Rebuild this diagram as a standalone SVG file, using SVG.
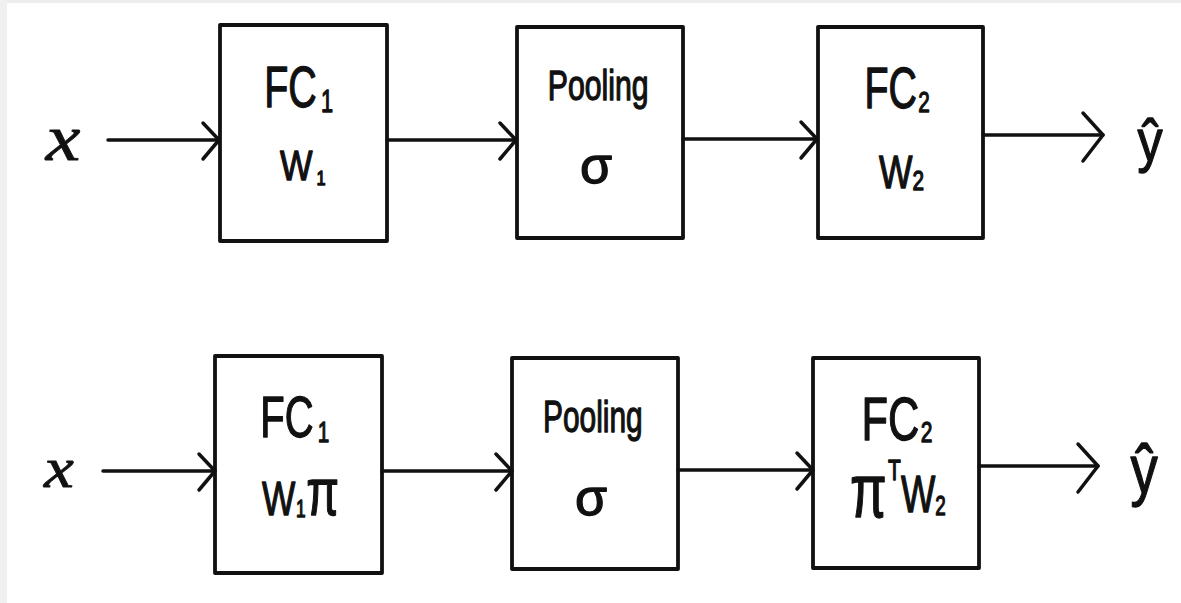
<svg xmlns="http://www.w3.org/2000/svg" width="1181" height="603" viewBox="0 0 1181 603">
  <style>
    .box { fill: #fff; stroke: #111; stroke-width: 3.8; stroke-linejoin: round; }
    .wire { fill: none; stroke: #111; stroke-width: 3.5; stroke-linecap: round; }
    .tip { fill: none; stroke: #111; stroke-width: 3.5; stroke-linecap: round; stroke-linejoin: round; }
    .lbl { font-family: "Liberation Sans", Arial, sans-serif; fill: #111; stroke: #111; stroke-width: 1.3; stroke-linejoin: round; }
    .var { font-family: "Liberation Serif", "Times New Roman", serif; font-style: italic; fill: #111; stroke: #111; stroke-width: 0.8; }
  </style>
  <defs>
    <!-- open chevron arrowheads -->
    <marker id="head" markerUnits="userSpaceOnUse" viewBox="-20 -24 24 48" refX="0" refY="0" markerWidth="24" markerHeight="48" orient="auto" overflow="visible">
      <path class="tip" d="M-16,-17 L0,0 L-16,19"/>
    </marker>
    <marker id="headOut" markerUnits="userSpaceOnUse" viewBox="-24 -28 28 56" refX="0" refY="0" markerWidth="28" markerHeight="56" orient="auto" overflow="visible">
      <path class="tip" d="M-20,-22 L0,0 L-20,26"/>
    </marker>
  </defs>

  <rect x="0" y="0" width="1181" height="603" fill="#fff"/>
  <rect x="0" y="0" width="1181" height="3" fill="#ededed"/>
  <rect x="0" y="0" width="7" height="603" fill="#f0f0f0"/>

  <!-- upper pipeline -->
  <g id="top-input">
    <text class="var" font-size="65" text-anchor="middle" transform="translate(63,160) scale(1.2,1)">x</text>
  </g>
  <g id="top-fc1">
    <rect class="box" x="220" y="25" width="167" height="216"/>
    <text class="lbl" font-size="58" transform="translate(267,107) scale(0.68,1)" x="-4">FC<tspan font-size="32" dx="6" dy="5">1</tspan></text>
    <text class="lbl" font-size="42" transform="translate(280,180) scale(0.82,1)">W<tspan font-size="20" dx="5" dy="5">1</tspan></text>
  </g>
  <g id="top-pool">
    <rect class="box" x="517" y="27" width="166" height="211"/>
    <text class="lbl" font-size="42" transform="translate(550,100) scale(0.72,1)" x="-3">Pooling</text>
    <text class="lbl" font-size="52" text-anchor="middle" x="596" y="183">σ</text>
  </g>
  <g id="top-fc2">
    <rect class="box" x="818" y="27" width="165" height="211"/>
    <text class="lbl" font-size="57" transform="translate(868,108) scale(0.69,1)" x="-5">FC<tspan font-size="30" dx="2" dy="4">2</tspan></text>
    <text class="lbl" font-size="46" transform="translate(879,188) scale(0.77,1)">W<tspan font-size="27" dx="0" dy="2">2</tspan></text>
  </g>
  <g id="top-output">
    <text class="lbl" font-size="59" text-anchor="middle" transform="translate(1150,161) scale(0.85,1)">ŷ</text>
  </g>

  <!-- lower pipeline -->
  <g id="bottom-input">
    <text class="var" font-size="56" text-anchor="middle" transform="translate(59,487) scale(1.2,1)">x</text>
  </g>
  <g id="bottom-fc1">
    <rect class="box" x="215" y="356" width="167" height="217"/>
    <text class="lbl" font-size="58" transform="translate(263,437) scale(0.69,1)" x="-4">FC<tspan font-size="30" dx="6" dy="5">1</tspan></text>
    <text class="lbl" font-size="49" transform="translate(262,515) scale(0.72,1)">W<tspan font-size="24" dx="1" dy="2">1</tspan><tspan font-size="66" dx="1" dy="-2">π</tspan></text>
  </g>
  <g id="bottom-pool">
    <rect class="box" x="512" y="358" width="166" height="211"/>
    <text class="lbl" font-size="44" transform="translate(545,432) scale(0.68,1)" x="-3">Pooling</text>
    <text class="lbl" font-size="52" text-anchor="middle" x="591" y="515">σ</text>
  </g>
  <g id="bottom-fc2">
    <rect class="box" x="813" y="358" width="166" height="210"/>
    <text class="lbl" font-size="62" transform="translate(865,440) scale(0.7,1)" x="-5">FC<tspan font-size="30" dx="2" dy="2">2</tspan></text>
    <text class="lbl" font-size="76" transform="translate(850,517) scale(0.7,1)">π<tspan font-size="30" dx="2" dy="-37">T</tspan><tspan font-size="52" dx="0" dy="32">W</tspan><tspan font-size="27" dx="0" dy="3">2</tspan></text>
  </g>
  <g id="bottom-output">
    <text class="lbl" font-size="68" text-anchor="middle" transform="translate(1144,493) scale(0.8,1)">ŷ</text>
  </g>

  <!-- connectors -->
  <g id="connectors">
    <line class="wire" x1="108" y1="140" x2="219" y2="140" marker-end="url(#head)"/>
    <line class="wire" x1="387" y1="140" x2="516" y2="140" marker-end="url(#head)"/>
    <line class="wire" x1="683" y1="139" x2="817" y2="139" marker-end="url(#head)"/>
    <line class="wire" x1="983" y1="135" x2="1103" y2="135" marker-end="url(#headOut)"/>

    <line class="wire" x1="103" y1="471" x2="215" y2="471" marker-end="url(#head)"/>
    <line class="wire" x1="382" y1="471" x2="512" y2="471" marker-end="url(#head)"/>
    <line class="wire" x1="678" y1="470" x2="813" y2="470" marker-end="url(#head)"/>
    <line class="wire" x1="979" y1="466" x2="1098" y2="466" marker-end="url(#headOut)"/>
  </g>
</svg>
